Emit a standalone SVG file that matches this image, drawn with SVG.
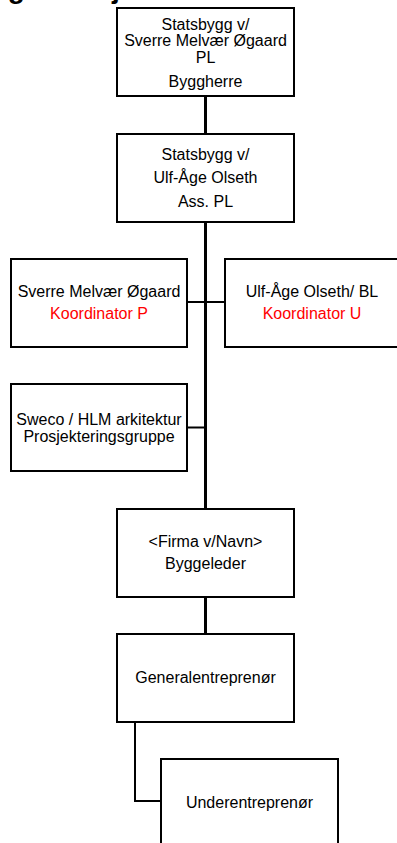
<svg xmlns="http://www.w3.org/2000/svg" width="397" height="843" viewBox="0 0 397 843">
<style>
.box{fill:#fff;stroke:#000;stroke-width:2}
.t{font-family:"Liberation Sans",Arial,sans-serif;font-size:16px;fill:#000;text-anchor:middle}
.red{fill:#ff0000}
.trunk{stroke:#000;stroke-width:3;fill:none}
.conn{stroke:#000;stroke-width:2;fill:none}
.title{font-family:"Liberation Sans",Arial,sans-serif;font-size:28px;font-weight:bold;fill:#000}
</style>
<rect width="397" height="843" fill="#fff"/>
<text class="title" x="-25" y="-2">Organisasjonskart</text>
<g id="connectors">
<line class="trunk" x1="205.5" y1="96" x2="205.5" y2="134"/>
<line class="trunk" x1="205.5" y1="222" x2="205.5" y2="509"/>
<line class="trunk" x1="205.5" y1="597" x2="205.5" y2="634"/>
<line class="conn" x1="187" y1="302" x2="225" y2="302"/>
<line class="conn" x1="187" y1="427.5" x2="205.5" y2="427.5"/>
<polyline class="conn" points="135,722 135,801 161,801"/>
</g>
<g id="byggherre">
<rect class="box" x="117" y="8" width="177" height="88"/>
<text class="t" x="205.5" y="29.5">Statsbygg v/</text>
<text class="t" x="205.5" y="46">Sverre Melvær Øgaard</text>
<text class="t" x="205.5" y="62.5">PL</text>
<text class="t" x="205.5" y="87">Byggherre</text>
</g>
<g id="asspl">
<rect class="box" x="117" y="134" width="177" height="88"/>
<text class="t" x="205.5" y="160">Statsbygg v/</text>
<text class="t" x="205.5" y="183">Ulf-Åge Olseth</text>
<text class="t" x="205.5" y="206.5">Ass. PL</text>
</g>
<g id="koordP">
<rect class="box" x="11" y="259" width="176" height="88"/>
<text class="t" x="99" y="296.5">Sverre Melvær Øgaard</text>
<text class="t red" x="99" y="319">Koordinator P</text>
</g>
<g id="koordU">
<rect class="box" x="225" y="259" width="176" height="88"/>
<text class="t" x="312" y="296.5">Ulf-Åge Olseth/ BL</text>
<text class="t red" x="312" y="319">Koordinator U</text>
</g>
<g id="prosjektering">
<rect class="box" x="11" y="384" width="176" height="87"/>
<text class="t" x="99" y="425">Sweco / HLM arkitektur</text>
<text class="t" x="99" y="441.5">Prosjekteringsgruppe</text>
</g>
<g id="byggeleder">
<rect class="box" x="117" y="509" width="177" height="88"/>
<text class="t" x="205.5" y="547">&lt;Firma v/Navn&gt;</text>
<text class="t" x="205.5" y="569">Byggeleder</text>
</g>
<g id="ge">
<rect class="box" x="117" y="634" width="177" height="88"/>
<text class="t" x="205.5" y="683">Generalentreprenør</text>
</g>
<g id="ue">
<rect class="box" x="161" y="759" width="177" height="88"/>
<text class="t" x="249.5" y="808">Underentreprenør</text>
</g>
</svg>
